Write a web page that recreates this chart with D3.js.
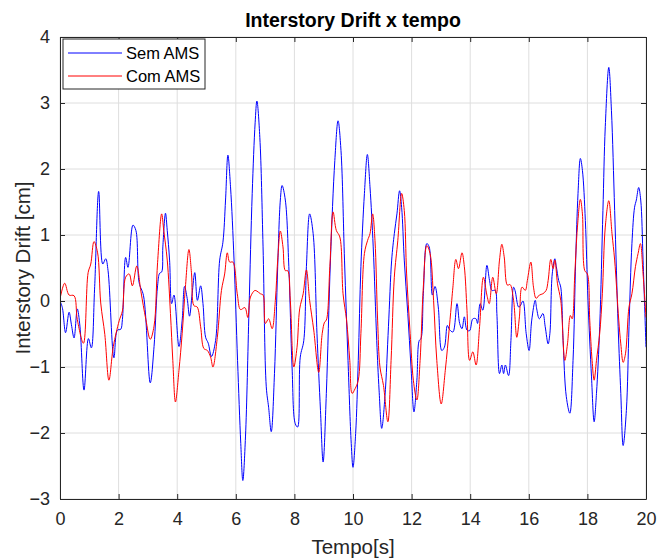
<!DOCTYPE html>
<html>
<head>
<meta charset="utf-8">
<script src="https://cdn.jsdelivr.net/npm/d3@7"></script>
<style>
  body { margin: 0; background: #fff; }
  svg { font-family: "Liberation Sans", Arial, sans-serif; }
  .grid line { stroke: #dedede; stroke-width: 1; }
  .axis path, .axis line { stroke: #262626; }
  .axis text { fill: #262626; font-size: 18px; }
</style>
</head>
<body>
<svg id="chart" width="658" height="558"></svg>
<script>
// values: [tempo, drift]
var semAMS = [
  [0,0],[0.08,-0.1],[0.19,-0.48],[0.31,-0.17],[0.39,-0.36],[0.48,-0.56],[0.59,-0.12],[0.68,-0.38],
  [0.82,-1.35],[0.97,-0.57],[1.07,-0.71],[1.18,0.18],[1.32,1.66],[1.46,0.56],[1.56,0.64],[1.64,0.46],
  [1.84,-0.86],[1.96,-0.44],[2.07,-0.43],[2.13,-0.28],[2.24,0.66],[2.32,0.51],[2.49,1.15],[2.59,1.07],
  [2.70,0.28],[2.85,0.08],[3.08,-1.24],[3.21,-0.69],[3.33,0.23],[3.40,0.42],[3.47,0.44],[3.51,0.82],
  [3.60,1.33],[3.66,1.07],[3.74,0.62],[3.81,-0.04],[3.89,0.09],[4.06,-0.69],[4.17,-0.29],[4.25,0.22],
  [4.34,0.04],[4.42,-0.23],[4.51,0.11],[4.60,0.43],[4.69,0.01],[4.80,0.23],[4.88,-0.04],[4.97,-0.55],
  [5.06,-0.64],[5.17,-0.84],[5.31,-0.60],[5.45,0.62],[5.56,0.89],[5.65,1.53],[5.73,2.21],[5.82,1.73],
  [5.94,0.62],[6.06,-0.90],[6.17,-2.16],[6.24,-2.72],[6.33,-2.06],[6.45,-0.14],[6.56,1.63],[6.66,2.70],
  [6.72,3.03],[6.82,2.48],[6.93,0.82],[7.04,-1.30],[7.12,-1.61],[7.21,-1.98],[7.32,-1.10],[7.43,0.52],
  [7.52,1.53],[7.58,1.75],[7.69,1.53],[7.81,0.52],[7.92,-1.0],[8.03,-1.86],[8.11,-1.91],[8.20,-0.85],
  [8.32,-0.60],[8.41,0.52],[8.52,1.32],[8.64,1.02],[8.77,-0.49],[8.89,-1.66],[8.98,-2.44],[9.09,-1.40],
  [9.23,0.62],[9.38,2.13],[9.49,2.73],[9.59,2.28],[9.71,0.62],[9.83,-0.90],[9.94,-2.16],[10.0,-2.52],
  [10.09,-2.01],[10.18,-0.90],[10.27,0.52],[10.39,1.63],[10.49,2.22],[10.58,1.73],[10.69,0.82],[10.81,-0.60],
  [10.89,-1.35],[10.98,-1.93],[11.09,-1.45],[11.21,-0.39],[11.32,0.62],[11.41,1.02],[11.50,1.32],[11.59,1.67],
  [11.66,1.42],[11.75,0.62],[11.87,-0.19],[11.98,-1.0],[12.08,-1.68],[12.18,-1.20],[12.26,-0.60],[12.32,-0.57],
  [12.40,0.11],[12.52,0.87],[12.60,0.82],[12.71,0.09],[12.80,0.22],[12.91,-0.09],[13.03,-0.75],[13.12,-0.70],
  [13.22,-0.37],[13.29,-0.43],[13.41,-0.47],[13.55,-0.04],[13.64,-0.34],[13.72,-0.42],[13.80,-0.24],[13.89,-0.44],
  [13.98,-0.45],[14.09,-0.27],[14.20,-0.27],[14.25,-0.34],[14.34,-0.04],[14.43,-0.14],[14.57,0.54],[14.66,0.31],
  [14.74,0.16],[14.85,0.16],[14.91,-0.19],[15.0,-1.10],[15.08,-0.97],[15.14,-1.10],[15.20,-0.97],[15.31,-1.13],
  [15.39,-0.60],[15.48,0.21],[15.53,0.16],[15.65,-0.09],[15.70,-0.08],[15.80,0.0],[15.91,-0.49],[16.01,-0.75],
  [16.10,-0.29],[16.22,0.01],[16.27,-0.12],[16.36,-0.27],[16.48,-0.19],[16.56,-0.39],[16.66,-0.65],[16.72,-0.49],
  [16.80,0.41],[16.89,0.64],[16.94,0.52],[17.02,0.31],[17.09,0.21],[17.17,-0.60],[17.28,-1.45],[17.40,-1.70],
  [17.51,-0.90],[17.60,0.62],[17.68,1.63],[17.76,2.16],[17.83,1.98],[17.93,1.22],[18.02,0.01],[18.14,-1.15],
  [18.23,-1.83],[18.31,-1.40],[18.42,-0.39],[18.53,1.37],[18.61,2.64],[18.73,3.54],[18.82,2.89],[18.93,1.37],
  [19.05,-0.39],[19.14,-1.40],[19.22,-2.19],[19.33,-1.66],[19.42,-0.39],[19.52,0.87],[19.61,1.42],[19.67,1.53],
  [19.75,1.72],[19.82,1.53],[19.90,0.62],[20.0,-0.70]
];
var comAMS = [
  [0,0.03],[0.16,0.27],[0.31,0.09],[0.48,0.08],[0.59,-0.28],[0.80,-0.64],[0.96,0.43],[1.05,0.56],
  [1.16,0.90],[1.28,0.74],[1.39,-0.03],[1.53,-0.51],[1.67,-1.20],[1.82,-0.69],[2.02,-0.30],[2.13,-0.15],
  [2.24,0.36],[2.36,0.41],[2.47,0.23],[2.62,0.53],[2.76,0.15],[2.93,-0.28],[3.08,-0.58],[3.21,-0.38],
  [3.33,0.58],[3.47,1.32],[3.54,1.07],[3.66,0.62],[3.77,-0.19],[3.85,-0.90],[3.94,-1.53],[4.06,-1.05],
  [4.17,-0.49],[4.28,0.21],[4.40,0.78],[4.49,0.41],[4.57,-0.07],[4.68,-0.09],[4.80,-0.39],[4.91,-0.72],
  [5.03,-0.75],[5.14,-0.85],[5.22,-1.0],[5.37,-0.55],[5.51,0.16],[5.62,0.41],[5.71,0.73],[5.79,0.59],
  [5.90,0.59],[6.05,0.11],[6.16,-0.13],[6.31,-0.10],[6.41,-0.25],[6.50,0.06],[6.65,0.16],[6.72,0.15],
  [6.84,0.11],[6.93,0.09],[7.01,-0.34],[7.12,-0.27],[7.24,-0.42],[7.35,0.01],[7.43,0.62],[7.52,1.06],
  [7.61,0.82],[7.69,0.46],[7.77,0.46],[7.86,0.01],[7.98,-1.0],[8.09,-0.70],[8.18,-0.12],[8.30,0.11],
  [8.41,0.47],[8.52,0.01],[8.66,-0.44],[8.83,-1.08],[8.95,-0.49],[9.03,-0.32],[9.09,-0.29],[9.21,0.52],
  [9.32,1.35],[9.43,1.07],[9.55,0.97],[9.66,0.11],[9.78,-0.29],[9.89,-0.90],[9.97,-1.40],[10.07,-1.33],
  [10.18,-1.20],[10.27,-0.49],[10.39,0.72],[10.50,0.92],[10.58,1.02],[10.67,1.32],[10.75,0.92],[10.84,-0.29],
  [10.92,-1.0],[11.04,-1.28],[11.19,-1.83],[11.30,-0.90],[11.41,0.36],[11.53,0.92],[11.66,1.63],[11.75,1.37],
  [11.83,0.41],[11.95,-0.49],[12.06,-1.20],[12.18,-1.50],[12.29,-0.90],[12.40,0.21],[12.52,0.84],[12.63,0.72],
  [12.75,0.01],[12.86,-0.90],[13.01,-1.56],[13.15,-1.05],[13.29,-0.39],[13.37,0.01],[13.41,0.21],[13.51,0.63],
  [13.60,0.49],[13.72,0.73],[13.80,0.52],[13.89,-0.14],[13.98,-0.90],[14.09,-0.77],[14.20,-0.97],[14.32,-0.39],
  [14.45,0.36],[14.57,0.09],[14.65,-0.04],[14.77,0.36],[14.89,0.11],[15.0,0.62],[15.08,0.86],[15.16,0.67],
  [15.27,0.24],[15.36,0.25],[15.48,0.01],[15.59,-0.55],[15.68,-0.24],[15.77,0.21],[15.88,0.16],[15.95,0.31],
  [16.07,0.59],[16.16,0.21],[16.25,0.04],[16.36,0.09],[16.48,0.11],[16.59,0.16],[16.66,0.31],[16.75,0.63],
  [16.83,0.49],[16.89,0.62],[16.98,0.26],[17.09,0.01],[17.23,-0.90],[17.32,-0.65],[17.42,-0.22],[17.48,-0.27],
  [17.57,0.41],[17.66,1.12],[17.76,1.54],[17.83,1.32],[17.91,0.46],[18.0,0.41],[18.08,-0.29],[18.16,-0.90],
  [18.23,-1.20],[18.31,-0.90],[18.42,-0.49],[18.51,0.11],[18.61,1.12],[18.73,1.52],[18.84,1.02],[18.93,0.62],
  [19.07,-0.29],[19.14,-0.65],[19.22,-0.93],[19.30,-0.80],[19.42,-0.09],[19.52,0.11],[19.64,0.52],[19.73,0.72],
  [19.81,0.87],[19.90,0.41],[20.0,-0.25]
];
var xTicks = [0,2,4,6,8,10,12,14,16,18,20];
var yTicks = [-3,-2,-1,0,1,2,3,4];
var seriesNames = ["Sem AMS","Com AMS"];
var seriesColors = ["#0000ff","#ff0000"];

var svg = d3.select("#chart"),
    margin = {top: 37, right: 12, bottom: 59, left: 60},
    width = +svg.attr("width") - margin.left - margin.right,
    height = +svg.attr("height") - margin.top - margin.bottom;

var g = svg.append("g").attr("transform", "translate(" + margin.left + "," + margin.top + ")");

var x = d3.scaleLinear().domain([0, 20]).range([0, width]);
var y = d3.scaleLinear().domain([-3, 4]).range([height, 0]);

// grid
g.append("g").attr("class", "grid")
  .selectAll("line.v").data(xTicks).enter().append("line")
    .attr("x1", d => x(d)).attr("x2", d => x(d)).attr("y1", 0).attr("y2", height);
g.select(".grid")
  .selectAll("line.h").data(yTicks).enter().append("line")
    .attr("x1", 0).attr("x2", width).attr("y1", d => y(d)).attr("y2", d => y(d));

var line = d3.line()
    .x(d => x(d[0]))
    .y(d => y(d[1]))
    .curve(d3.curveCatmullRom.alpha(0.5));

var clip = svg.append("clipPath").attr("id", "clip").append("rect")
    .attr("width", width).attr("height", height);

[semAMS, comAMS].forEach(function(s, i) {
  g.append("path")
    .datum(s)
    .attr("clip-path", "url(#clip)")
    .attr("fill", "none")
    .attr("stroke", seriesColors[i])
    .attr("stroke-width", 1)
    .attr("d", line);
});

// axes, ticks inside as in matlab
var fmt = d3.format("d");
g.append("g").attr("class", "axis")
  .attr("transform", "translate(0," + height + ")")
  .call(d3.axisBottom(x).tickValues(xTicks).tickFormat(fmt).tickSizeInner(-5).tickSizeOuter(0).tickPadding(13));
g.append("g").attr("class", "axis")
  .call(d3.axisTop(x).tickValues(xTicks).tickSizeInner(-5).tickSizeOuter(0).tickFormat(""));
g.append("g").attr("class", "axis")
  .call(d3.axisLeft(y).tickValues(yTicks).tickFormat(fmt).tickSizeInner(-5).tickSizeOuter(0).tickPadding(10));
g.append("g").attr("class", "axis")
  .attr("transform", "translate(" + width + ",0)")
  .call(d3.axisRight(y).tickValues(yTicks).tickSizeInner(-5).tickSizeOuter(0).tickFormat(""));

// title and labels
svg.append("text")
  .attr("x", margin.left + width / 2).attr("y", 27)
  .attr("text-anchor", "middle")
  .style("font-weight", "bold").style("font-size", "19.5px").attr("fill", "#000")
  .text("Interstory Drift x tempo");

svg.append("text")
  .attr("x", margin.left + width / 2).attr("y", 554)
  .attr("text-anchor", "middle")
  .style("font-size", "20.5px").attr("fill", "#262626")
  .text("Tempo[s]");

svg.append("text")
  .attr("transform", "translate(30," + (margin.top + height / 2) + ") rotate(-90)")
  .attr("text-anchor", "middle")
  .style("font-size", "20.5px").attr("fill", "#262626")
  .text("Interstory Drift [cm]");

// legend
var lg = g.append("g").attr("transform", "translate(3,2)");
lg.append("rect")
  .attr("width", 142).attr("height", 50)
  .attr("fill", "#fff").attr("stroke", "#262626").attr("stroke-width", 1);
seriesNames.forEach(function(name, i) {
  var yy = 14 + i * 23;
  lg.append("line")
    .attr("x1", 5).attr("x2", 59).attr("y1", yy).attr("y2", yy)
    .attr("stroke", seriesColors[i]).attr("stroke-width", 1);
  lg.append("text")
    .attr("x", 63).attr("y", yy).attr("dy", "0.35em")
    .style("font-size", "16.5px").attr("fill", "#000")
    .text(name);
});
</script>
</body>
</html>
